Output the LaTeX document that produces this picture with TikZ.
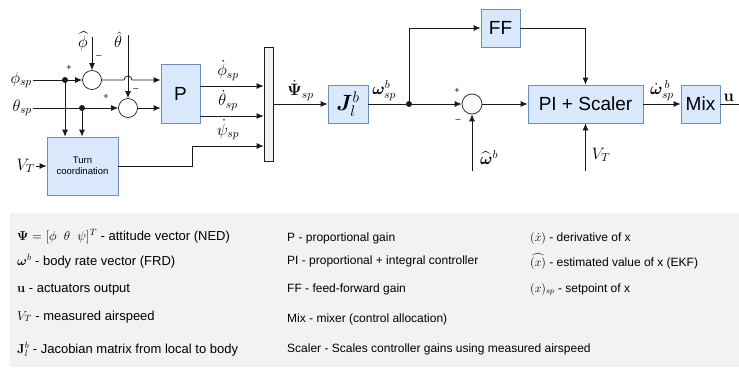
\RequirePackage{fix-cm}
\documentclass[tikz,border=0pt]{standalone}
\usepackage{amsmath,amssymb,bm}
\usepackage[no-math]{fontspec}
\setmainfont{Liberation Sans}
\usepackage{tikz}
\usetikzlibrary{arrows.meta,positioning,calc}
\definecolor{boxFill} {HTML}{DAE8FC}
\definecolor{boxLine} {HTML}{6C8EBF}
\definecolor{legendBg}{HTML}{F2F2F2}
\definecolor{muxFill} {HTML}{F2F2F2}
\definecolor{wireCol} {HTML}{1A1A1A}

\begin{document}
\begin{tikzpicture}[x=1pt, y=-1pt,
   blk/.style={rectangle, draw=boxLine, fill=boxFill, line width=0.8pt, inner sep=0pt,
               font=\fontsize{19}{22}\selectfont},
   sumpt/.style={circle, draw=wireCol, fill=white, line width=0.7pt, inner sep=0pt,
                 minimum size=19pt},
   muxbar/.style={rectangle, draw=wireCol, fill=muxFill, line width=0.8pt, inner sep=0pt},
   wire/.style={draw=wireCol, line width=0.8pt},
   sig/.style={wire, -{Latex[length=7pt,width=6pt]}},
   jdot/.style={circle, fill=wireCol, inner sep=0pt, minimum size=6pt},
   lab/.style={font=\fontsize{16.5}{19}\selectfont, inner sep=1pt},
   sgn/.style={font=\fontsize{9}{10}\selectfont, inner sep=0pt},
   lgd/.style={anchor=base west, font=\fontsize{12}{14}\selectfont, inner sep=0pt},
   lgdL/.style={lgd, font=\fontsize{13}{15}\selectfont}
]
\useasboundingbox (0,0) rectangle (739,367);
\fill[legendBg] (10,213) rectangle (739,367);

\node[sumpt] (s1) at (92,80) {};
\node[sumpt] (s2) at (128,108) {};
\node[sumpt, minimum size=20pt] (s3) at (472,104) {};
\node[blk, minimum width=39pt, minimum height=59pt] (p) at (180.5,93.5) {P};
\node[blk, minimum width=71pt, minimum height=58pt, align=center,
      font=\fontsize{9.5}{11.5}\selectfont] (tc) at (82.5,166) {Turn\\coordination};
\node[muxbar, minimum width=9pt, minimum height=114pt] (mux) at (268.5,104) {};
\node[blk, minimum width=40pt, minimum height=38pt, font=\fontsize{22}{24}\selectfont]
      (jac) at (348,104) {$\bm{J}_l^b$};
\node[blk, minimum width=39pt, minimum height=38pt] (ff) at (500.5,28) {FF};
\node[blk, minimum width=115pt, minimum height=38pt] (pi) at (585.5,104) {PI + Scaler};
\node[blk, minimum width=39pt, minimum height=38pt] (mix) at (700.5,104) {Mix};

\node[lab, anchor=east] (phisp) at (33,80) {$\phi_{sp}$};
\node[lab, anchor=east] (thsp) at (33,108) {$\theta_{sp}$};
\node[lab, anchor=east] (vt1) at (36,166) {$V_T$};
\node[lab] (phhat) at (83,41) {$\widehat{\phi}$};
\node[lab] (thhat) at (118,40) {$\hat{\theta}$};
\coordinate (phtop) at (92,37);
\coordinate (thtop) at (128,35);
\node[jdot] (j1) at (65,80) {};
\node[jdot] (j2) at (82,108) {};

\draw[sig] (phisp.east) -- (s1.west);
\draw[sig] (thsp.east) -- (s2.west);
\draw[sig] (phtop) -- (s1.north);
\draw[sig] (thtop) -- (s2.north);
\draw[sig] (j1) -- (j1 |- tc.north);
\draw[sig] (j2) -- (j2 |- tc.north);
\draw[sig] (vt1.east) -- (tc.west);
\draw[sig] (s1.east) -- (124,80) arc[start angle=180, end angle=0, radius=4pt] -- (s1 -| p.west);
\draw[sig] (s2.east) -- (s2 -| p.west);

\foreach \yy/\lab in {86/{$\dot{\phi}_{sp}$}, 116/{$\dot{\theta}_{sp}$}}{
  \draw[sig] (p.east |- 0,\yy) -- node[lab, above=4pt, xshift=-4pt] {\lab} (mux.west |- 0,\yy);
}
\draw[sig] (tc.east) -- ++(74,0) |- (mux.west |- 0,146);
\node[lab] (psid) at (228,130) {$\dot{\psi}_{sp}$};

\draw[sig] (mux.east) -- node[lab, above=2pt] {$\dot{\bm{\Psi}}_{sp}$} (jac.west);
\node[jdot] (j3) at (409,104) {};
\draw[wire] (jac.east) -- node[lab, above=2pt, xshift=-3pt] {$\bm{\omega}_{sp}^b$} (j3);
\draw[sig] (j3) -- (s3.west);
\draw[sig] (j3) |- (ff.west);
\draw[sig] (ff.east) -| (pi.north);
\draw[sig] (s3.east) -- (pi.west);

\coordinate (wtop) at (472,171);
\draw[sig] (wtop) -- (s3.south);
\node[lab] (what) at (489,157) {$\widehat{\bm{\omega}}^b$};
\coordinate (vtin) at (585.5,171);
\draw[sig] (vtin) -- (pi.south);
\node[lab] (vt2) at (601,155) {$V_T$};
\draw[sig] (pi.east) -- node[lab, above=2pt] {$\dot{\bm{\omega}}_{sp}^{\,b}$} (mix.west);
\coordinate (uout) at (739,104);
\draw[wire] (mix.east) -- node[lab, above=1pt, pos=0.45] {$\mathbf{u}$} (uout);

\foreach \x/\y/\s in {69/68/+, 99/57/–, 106/97/+, 136/90/–, 457/91/+, 458/121/–}{
  \node[sgn] at (\x,\y) {\s};
}

\foreach \y/\txt in {240/{$\bm{\Psi} = [\phi\ \ \theta\ \ \psi]^T$ - attitude vector (NED)},
                     265/{$\bm{\omega}^b$ - body rate vector (FRD)},
                     292/{$\mathbf{u}$ - actuators output},
                     320/{$V_T$ - measured airspeed},
                     353/{$\mathbf{J}_l^b$ - Jacobian matrix from local to body}}{
  \node[lgdL] at (17,\y) {\txt};
}
\foreach \y/\txt in {241/{P - proportional gain},
                     264/{PI - proportional + integral controller},
                     292/{FF - feed-forward gain},
                     322/{Mix - mixer (control allocation)},
                     352/{Scaler - Scales controller gains using measured airspeed}}{
  \node[lgd] at (287,\y) {\txt};
}
\foreach \y/\txt in {241/{$(\dot{x})$ - derivative of x},
                     266/{$\widehat{(x)}$ - estimated value of x (EKF)},
                     292/{$(x)_{sp}$ - setpoint of x}}{
  \node[lgd] at (530,\y) {\txt};
}
\end{tikzpicture}
\end{document}
